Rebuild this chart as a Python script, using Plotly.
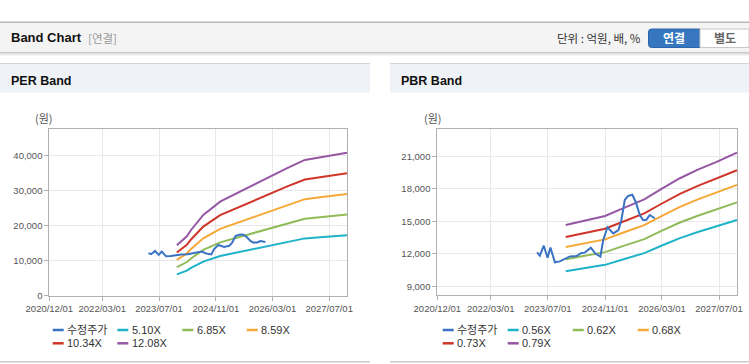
import plotly.graph_objects as go

W, H = 749, 364

# ---------------- data ----------------
price_dates = ["2023-04-01", "2023-04-24", "2023-05-28", "2023-06-29", "2023-07-24", "2023-08-31",
               "2023-10-12", "2023-11-24", "2024-01-06", "2024-03-02", "2024-04-14", "2024-05-12",
               "2024-07-02", "2024-08-10", "2024-09-22", "2024-10-16", "2024-11-21", "2025-01-10",
               "2025-02-23", "2025-03-20", "2025-04-18", "2025-05-16", "2025-06-21", "2025-07-20",
               "2025-08-24", "2025-09-21", "2025-10-20", "2025-11-17", "2025-12-30"]
price = [12140, 11830, 12750, 11640, 12570, 11220,
         11300, 11500, 11760, 11800, 12080, 12110,
         12570, 12020, 11740, 13280, 14450, 13890,
         14200, 15120, 16970, 17340, 17450, 16810,
         15580, 15120, 15150, 15580, 15280]

per_dates = ["2023-12-01", "2024-02-25", "2024-04-01", "2024-07-15", "2024-12-07", "2025-04-28",
             "2025-10-16", "2026-03-07", "2026-07-01", "2026-12-04", "2027-04-13", "2027-08-04",
             "2027-12-01"]
eps = [1190, 1400, 1550, 1904, 2219, 2416, 2652, 2848, 3005, 3202, 3266, 3320, 3374]
per_multiples = [5.10, 6.85, 8.59, 10.34, 12.08]
per_names = ["5.10X", "6.85X", "8.59X", "10.34X", "12.08X"]

pbr_dates = ["2023-12-01", "2024-06-01", "2024-11-01", "2025-04-01", "2025-10-01", "2026-03-01",
             "2026-08-01", "2027-01-01", "2027-06-01", "2027-12-01"]
bps = [18560, 19150, 19610, 20500, 21550, 22800, 24020, 25030, 25880, 27010]
pbr_multiples = [0.56, 0.62, 0.68, 0.73, 0.79]
pbr_names = ["0.56X", "0.62X", "0.68X", "0.73X", "0.79X"]

x_tick_vals = ["2020-12-01", "2022-03-01", "2023-07-01", "2024-11-01", "2026-03-01", "2027-07-01"]
x_tick_text = ["2020/12/01", "2022/03/01", "2023/07/01", "2024/11/01", "2026/03/01", "2027/07/01"]
per_y_ticks = [0, 10000, 20000, 30000, 40000]
pbr_y_ticks = [9000, 12000, 15000, 18000, 21000]

price_name = "수정주가"
price_color = "#3a72c4"
band_colors = ["#1fb3c8", "#8fbb58", "#f5a838", "#cf3529", "#9556a3"]

# ---------------- helpers ----------------
def px(x):
    return x / W

def py(y):
    return 1 - y / H

fig = go.Figure()

for k, name, c in zip(per_multiples, per_names, band_colors):
    fig.add_trace(go.Scatter(x=per_dates, y=[e * k for e in eps], mode="lines", name=name,
                             line=dict(color=c, width=2), xaxis="x", yaxis="y", showlegend=False))
fig.add_trace(go.Scatter(x=price_dates, y=price, mode="lines", name=price_name,
                         line=dict(color=price_color, width=2), xaxis="x", yaxis="y", showlegend=False))
for k, name, c in zip(pbr_multiples, pbr_names, band_colors):
    fig.add_trace(go.Scatter(x=pbr_dates, y=[b * k for b in bps], mode="lines", name=name,
                             line=dict(color=c, width=2), xaxis="x2", yaxis="y2", showlegend=False))
fig.add_trace(go.Scatter(x=price_dates, y=price, mode="lines", name=price_name,
                         line=dict(color=price_color, width=2), xaxis="x2", yaxis="y2", showlegend=False))

tick_font = dict(family="Liberation Sans, sans-serif", size=9.5, color="#555555")
axis_common = dict(showline=True, mirror=True, linecolor="#b0b0b0", linewidth=1,
                   showgrid=True, gridcolor="#e8e8e8", gridwidth=1, zeroline=False,
                   ticks="outside", ticklen=4, tickcolor="#b0b0b0", tickfont=tick_font,
                   tickangle=0, automargin=False)

xr = ["2020-12-01", "2027-12-04"]
fig.update_layout(
    width=W, height=H, autosize=False,
    margin=dict(l=0, r=0, t=0, b=0, pad=0, autoexpand=False),
    paper_bgcolor="white", plot_bgcolor="white",
    xaxis=dict(domain=[px(49.33), px(347.33)], type="date", range=xr,
               tickvals=x_tick_vals, ticktext=x_tick_text, anchor="y", **axis_common),
    yaxis=dict(domain=[py(295.67), py(128.67)], range=[0, 47600],
               tickvals=per_y_ticks, tickformat=",", anchor="x", **axis_common),
    xaxis2=dict(domain=[px(437.33), px(737.33)], type="date", range=xr,
                tickvals=x_tick_vals, ticktext=x_tick_text, anchor="y2", **axis_common),
    yaxis2=dict(domain=[py(295.33), py(128.67)], range=[8170, 23550],
                tickvals=pbr_y_ticks, tickformat=",", anchor="x2", **axis_common),
    showlegend=False,
    hovermode=False,
)

shapes = []
ann = []

def rect(x0, y0, x1, y1, fill, line=None, lw=0):
    shapes.append(dict(type="rect", xref="paper", yref="paper", x0=px(x0), x1=px(min(x1, W)),
                       y0=py(y1), y1=py(y0), fillcolor=fill,
                       line=dict(color=line or fill, width=lw), layer="below"))

def hline(x0, x1, y, color, w=1):
    shapes.append(dict(type="line", xref="paper", yref="paper", x0=px(x0), x1=px(x1),
                       y0=py(y), y1=py(y), line=dict(color=color, width=w), layer="below"))

def text(x, y, s, size=11, color="#333333", anchor="left", bold=False,
         family="Liberation Sans, Noto Sans CJK KR, sans-serif"):
    if bold:
        s = "<b>" + s + "</b>"
    ann.append(dict(xref="paper", yref="paper", x=px(x), y=py(y), text=s, showarrow=False,
                    xanchor=anchor, yanchor="middle", borderpad=0,
                    font=dict(size=size, color=color, family=family)))

rect(0, 22.5, W, 52, "#f4f4f4")
hline(0, W, 22.2, "#b8b8b8", 1.5)
hline(0, W, 52.5, "#c9c9c9", 1)
hline(0, W, 53.5, "#dddddd", 1)
hline(0, W, 54.5, "#ebebeb", 1)
hline(0, W, 55.5, "#f5f5f5", 1)

for (a, b) in [(0, 370), (390, W)]:
    rect(a, 64, b, 92.5, "#eff2f7")
    hline(a, b, 63.5, "#d4d4d4", 1.2)
    hline(a, b, 361.7, "#cccccc", 1.5)

bx0, bx1, by0, by1, r = 648.5, 700, 29, 47.5, 3
path = (f"M {px(bx1)},{py(by0)} L {px(bx0 + r)},{py(by0)} Q {px(bx0)},{py(by0)} {px(bx0)},{py(by0 + r)} "
        f"L {px(bx0)},{py(by1 - r)} Q {px(bx0)},{py(by1)} {px(bx0 + r)},{py(by1)} L {px(bx1)},{py(by1)} Z")
shapes.append(dict(type="path", xref="paper", yref="paper", path=path, fillcolor="#3677bf",
                   line=dict(color="#2c66a8", width=1), layer="below"))
rect(700, 29, 749, 47.5, "#ffffff", "#c8c8c8", 1)

text(10, 38, "Band Chart", size=13, color="#111111", bold=True)
text(87, 38, "[연결]", size=11.5, color="#9a9a9a", family="Noto Sans CJK KR, sans-serif")
text(642, 38, "단위 : 억원, 배, %", size=11.5, color="#333333", anchor="right",
     family="Noto Sans CJK KR, sans-serif")
text(674, 38, "연결", size=12, color="#ffffff", anchor="center", bold=True,
     family="Noto Sans CJK KR, sans-serif")
text(725, 38, "별도", size=12, color="#666666", anchor="center", bold=True,
     family="Noto Sans CJK KR, sans-serif")
text(10, 80.5, "PER Band", size=12.5, color="#111111", bold=True)
text(400, 80.5, "PBR Band", size=12.5, color="#111111", bold=True)

text(44, 118, "(원)", size=11, color="#555555", anchor="center", family="Noto Sans CJK KR, sans-serif")
text(432.5, 118, "(원)", size=11, color="#555555", anchor="center", family="Noto Sans CJK KR, sans-serif")

def legend(cols, names, colors):
    rows = [330, 343.3]
    for i, (n, c) in enumerate(zip(names, colors)):
        x0 = cols[i % 4]
        y = rows[i // 4]
        hline(x0, x0 + 11, y, c, 2.5)
        text(x0 + 13.5, y, n, size=11, color="#333333",
             family="Liberation Sans, Noto Sans CJK KR, sans-serif")

legend([52.7, 117.3, 182.3, 246.7], [price_name] + per_names, [price_color] + band_colors)
legend([442.7, 507.7, 572.7, 637.7], [price_name] + pbr_names, [price_color] + band_colors)

fig.update_layout(shapes=shapes, annotations=ann)

post = ("document.body.style.margin='0';document.body.style.padding='0';"
        "document.body.style.overflow='hidden';document.documentElement.style.overflow='hidden';")
fig.write_html("out.html", config={"displayModeBar": False, "responsive": False}, post_script=post)
